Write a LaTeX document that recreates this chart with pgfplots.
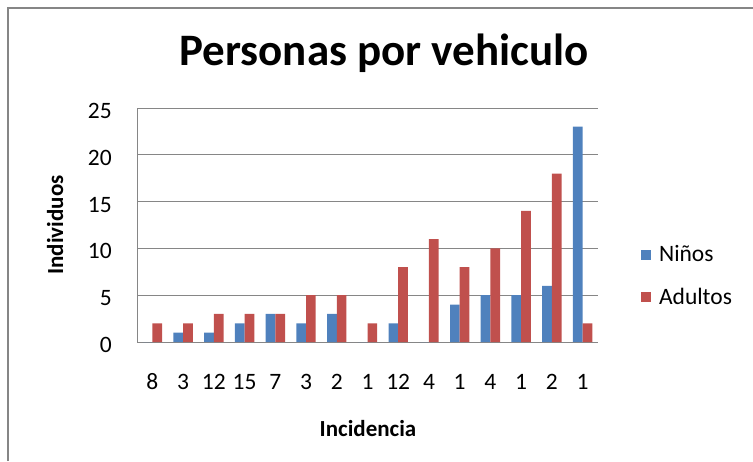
\documentclass[border=0pt]{standalone}
\usepackage{fontspec}
\setmainfont{Carlito}
\usepackage{pgfplots}
\pgfplotsset{compat=1.18}
\definecolor{cblue}{HTML}{4F81BD}
\definecolor{cred}{HTML}{C0504D}
\definecolor{cgrid}{HTML}{868686}
\begin{document}
\begin{tikzpicture}[x=1pt,y=1pt]
\useasboundingbox (0,0) rectangle (753,461);
\draw[cgrid, line width=2pt] (8,0) -- (8,453) -- (753,453);
\begin{axis}[
  at={(137pt,119pt)}, anchor=south west,
  scale only axis, width=461pt, height=234pt,
  ybar=0pt, bar width=9.7pt,
  xmin=-0.5, xmax=14.5, ymin=0, ymax=25,
  xtick={0,...,14},
  xticklabels={8,3,12,15,7,3,2,1,12,4,1,4,1,2,1},
  ytick={0,5,...,25},
  major tick length=0pt,
  axis x line*=bottom, axis y line*=left,
  axis line style={cgrid, line width=1pt},
  ymajorgrids, grid style={cgrid, line width=1pt},
  /pgf/number format/assume math mode=true,
  tick label style={font=\fontsize{23.5}{28}\selectfont, inner sep=0pt},
  xticklabel style={anchor=base, yshift=-47pt},
  yticklabel style={anchor=east, xshift=-25pt, yshift=-3pt},
  title={\bfseries Personas por vehiculo},
  title style={font=\fontsize{45}{50}\selectfont, at={(0.536,1.154)}, anchor=base, inner sep=0pt},
  xlabel={\bfseries Incidencia},
  xlabel style={font=\fontsize{23}{28}\selectfont, at={(0.501,-0.402)}, anchor=base, inner sep=0pt},
  ylabel={\bfseries Individuos},
  ylabel style={font=\fontsize{23}{28}\selectfont, at={(-0.1605,0.5)}, anchor=base, rotate=0, inner sep=0pt},
  legend style={at={(1.093,0.282)}, anchor=west, draw=none, fill=none,
    font=\fontsize{23.5}{28}\selectfont, row sep=21pt, inner sep=0pt,
    nodes={inner sep=2pt},
    /tikz/every odd column/.append style={column sep=6pt}},
  legend cell align=left,
  legend image code/.code={\fill[#1, draw=none] (0pt,-5pt) rectangle (10pt,5pt);},
]
\addplot[fill=cblue, draw=none] coordinates {
(0,0) (1,1) (2,1) (3,2) (4,3) (5,2) (6,3) (7,0) (8,2) (9,0) (10,4) (11,5) (12,5) (13,6) (14,23)};
\addplot[fill=cred, draw=none] coordinates {
(0,2) (1,2) (2,3) (3,3) (4,3) (5,5) (6,5) (7,2) (8,8) (9,11) (10,8) (11,10) (12,14) (13,18) (14,2)};
\legend{Niños, Adultos}
\end{axis}
\end{tikzpicture}
\end{document}
